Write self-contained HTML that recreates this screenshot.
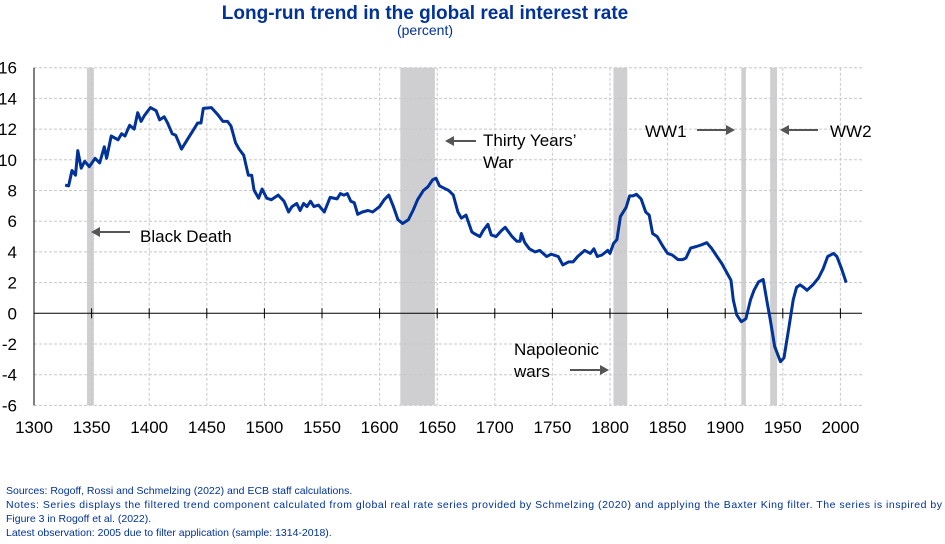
<!DOCTYPE html>
<html><head><meta charset="utf-8">
<style>
body{margin:0;background:#fff;width:945px;height:544px;overflow:hidden;font-family:"Liberation Sans",Arial,sans-serif;}
svg{display:block}
</style></head>
<body>
<svg id="chart" width="945" height="544" font-family="Liberation Sans, Arial, sans-serif">
<text x="425" y="19" text-anchor="middle" font-size="19" font-weight="bold" fill="#003299">Long-run trend in the global real interest rate</text>
<text x="425" y="35" text-anchor="middle" font-size="14" fill="#003299">(percent)</text>
<g id="bands"></g>
<g id="grid"></g>
<g id="axes"></g>
<g id="series"></g>
<g id="annot" font-size="17" fill="#000">
<line x1="130" y1="232" x2="97" y2="232" stroke="#555" stroke-width="2"/>
<polygon points="91,232 100,227 100,237" fill="#555"/>
<text x="140" y="242">Black Death</text>
<line x1="476" y1="141" x2="451" y2="141" stroke="#555" stroke-width="2"/>
<polygon points="445,141 454,136 454,146" fill="#555"/>
<text x="483" y="146">Thirty Years’</text>
<text x="483" y="168">War</text>
<text x="645" y="137">WW1</text>
<line x1="697" y1="130" x2="729" y2="130" stroke="#555" stroke-width="2"/>
<polygon points="735,130 726,125 726,135" fill="#555"/>
<line x1="818" y1="130" x2="786" y2="130" stroke="#555" stroke-width="2"/>
<polygon points="780,130 789,125 789,135" fill="#555"/>
<text x="830" y="137">WW2</text>
<text x="514" y="355">Napoleonic</text>
<text x="514" y="377">wars</text>
<line x1="570" y1="370" x2="603" y2="370" stroke="#555" stroke-width="2"/>
<polygon points="609,370 600,365 600,375" fill="#555"/>
</g>
<g font-size="10.5" fill="#003299">
<text x="6" y="494">Sources: Rogoff, Rossi and Schmelzing (2022) and ECB staff calculations.</text>
<text x="6" y="508" textLength="936">Notes: Series displays the filtered trend component calculated from global real rate series provided by Schmelzing (2020) and applying the Baxter King filter. The series is inspired by</text>
<text x="6" y="522">Figure 3 in Rogoff et al. (2022).</text>
<text x="6" y="536">Latest observation: 2005 due to filter application (sample: 1314-2018).</text>
</g>
</svg>
<script>
const years=[1327,1330,1333,1336,1338,1341,1344,1348,1353,1357,1361,1363,1367,1373,1376,1379,1383,1387,1390,1393,1396,1401,1406,1409,1413,1416,1420,1423,1428,1433,1438,1442,1445,1447,1454,1460,1464,1468,1471,1475,1478,1482,1486,1489,1491,1495,1498,1502,1506,1512,1517,1521,1524,1528,1531,1534,1537,1540,1543,1547,1552,1557,1563,1566,1569,1572,1575,1578,1581,1585,1590,1594,1600,1604,1608,1612,1616,1620,1625,1629,1633,1638,1642,1646,1649,1652,1656,1660,1664,1668,1671,1675,1680,1682,1687,1690,1694,1697,1701,1706,1709,1715,1719,1722,1723,1726,1730,1735,1739,1745,1749,1755,1759,1764,1768,1772,1778,1783,1786,1789,1793,1798,1800,1803,1806,1809,1814,1817,1820,1823,1827,1831,1834,1837,1841,1846,1850,1854,1859,1863,1866,1870,1875,1879,1884,1888,1892,1897,1901,1905,1907,1910,1914,1918,1922,1925,1929,1933,1936,1939,1943,1948,1951,1955,1959,1962,1965,1968,1971,1976,1981,1985,1989,1994,1997,2001,2005];
const rates=[8.35,8.3,9.3,9.0,10.6,9.45,9.9,9.55,10.1,9.8,10.85,10.1,11.55,11.3,11.7,11.55,12.25,12.0,13.07,12.5,12.9,13.4,13.2,12.6,12.8,12.4,11.7,11.6,10.7,11.3,11.9,12.4,12.4,13.35,13.4,12.9,12.5,12.5,12.2,11.1,10.7,10.3,9.0,9.0,8.03,7.5,8.1,7.5,7.4,7.7,7.3,6.6,6.95,7.15,6.7,7.15,6.95,7.3,6.95,7.05,6.6,7.55,7.45,7.8,7.7,7.8,7.3,7.2,6.45,6.6,6.7,6.6,6.95,7.4,7.7,6.95,6.1,5.85,6.1,6.7,7.4,8.0,8.25,8.7,8.8,8.3,8.15,8.0,7.7,6.6,6.2,6.4,5.3,5.2,5.0,5.4,5.8,5.1,5.0,5.4,5.6,5.0,4.7,4.7,5.2,4.6,4.2,4.0,4.1,3.7,3.85,3.7,3.15,3.35,3.35,3.7,4.1,3.9,4.2,3.7,3.8,4.1,3.9,4.55,4.8,6.3,6.9,7.65,7.65,7.75,7.45,6.6,6.4,5.2,5.0,4.35,3.9,3.8,3.5,3.5,3.6,4.25,4.35,4.45,4.6,4.25,3.8,3.25,2.7,2.15,0.87,-0.1,-0.55,-0.35,0.87,1.5,2.05,2.2,0.87,-0.35,-2.17,-3.15,-2.9,-1.05,0.87,1.7,1.85,1.7,1.5,1.85,2.3,2.9,3.7,3.9,3.7,2.9,2.0];
const bandStarts=[1346,1618,1803,1914,1939];
const bandEnds=[1352,1648,1815,1918,1945];
const xTicks=[1300,1350,1400,1450,1500,1550,1600,1650,1700,1750,1800,1850,1900,1950,2000];
const yTicks=[-6,-4,-2,0,2,4,6,8,10,12,14,16];

const X=y=>34+(y-1300)*1.152;
const Y=v=>313.3-v*15.35;
const NS='http://www.w3.org/2000/svg';
function mk(tag,attrs,parent){const e=document.createElementNS(NS,tag);for(const k in attrs)e.setAttribute(k,attrs[k]);parent.appendChild(e);return e;}
const bandsG=document.getElementById('bands'),gridG=document.getElementById('grid'),axesG=document.getElementById('axes'),seriesG=document.getElementById('series');
const plotTop=Y(16),plotBot=Y(-6),plotRight=862;
bandStarts.forEach((s,i)=>{
  const r=mk('rect',{x:X(s),y:plotTop,width:X(bandEnds[i])-X(s),height:plotBot-plotTop,fill:'#cfcfd1'},bandsG);
  
  
});
yTicks.forEach(v=>{
  if(v!==0){const l=mk('line',{x1:34,x2:plotRight,y1:Y(v),y2:Y(v),stroke:'#c8c8c8','stroke-dasharray':'3,2','stroke-width':1},gridG);
  
  }
  const t=mk('text',{x:17,y:Y(v)+6,'text-anchor':'end','font-size':17,fill:'#000'},axesG);
  t.textContent=v;
  
  
});
xTicks.forEach(yr=>{
  if(yr>1300){const l=mk('line',{x1:X(yr),x2:X(yr),y1:plotTop,y2:plotBot,stroke:'#c8c8c8','stroke-dasharray':'3,2','stroke-width':1},gridG);
  
  }
  mk('line',{x1:X(yr),x2:X(yr),y1:Y(0)-5,y2:Y(0)+5,stroke:'#000','stroke-width':1},axesG);
  const t=mk('text',{x:X(yr),y:433,'text-anchor':'middle','font-size':17,fill:'#000'},axesG);
  t.textContent=yr;
  
  
});
const ya=mk('line',{x1:34,x2:34,y1:plotTop,y2:plotBot,stroke:'#000','stroke-width':1},axesG);


const xa=mk('line',{x1:34,x2:plotRight,y1:Y(0),y2:Y(0),stroke:'#000','stroke-width':1},axesG);


const d=years.map((yr,i)=>(i?'L':'M')+X(yr).toFixed(1)+','+Y(rates[i]).toFixed(1)).join('');
const p=mk('path',{d:d,fill:'none',stroke:'#003299','stroke-width':3,'stroke-linejoin':'round'},seriesG);


</script>
</body></html>
